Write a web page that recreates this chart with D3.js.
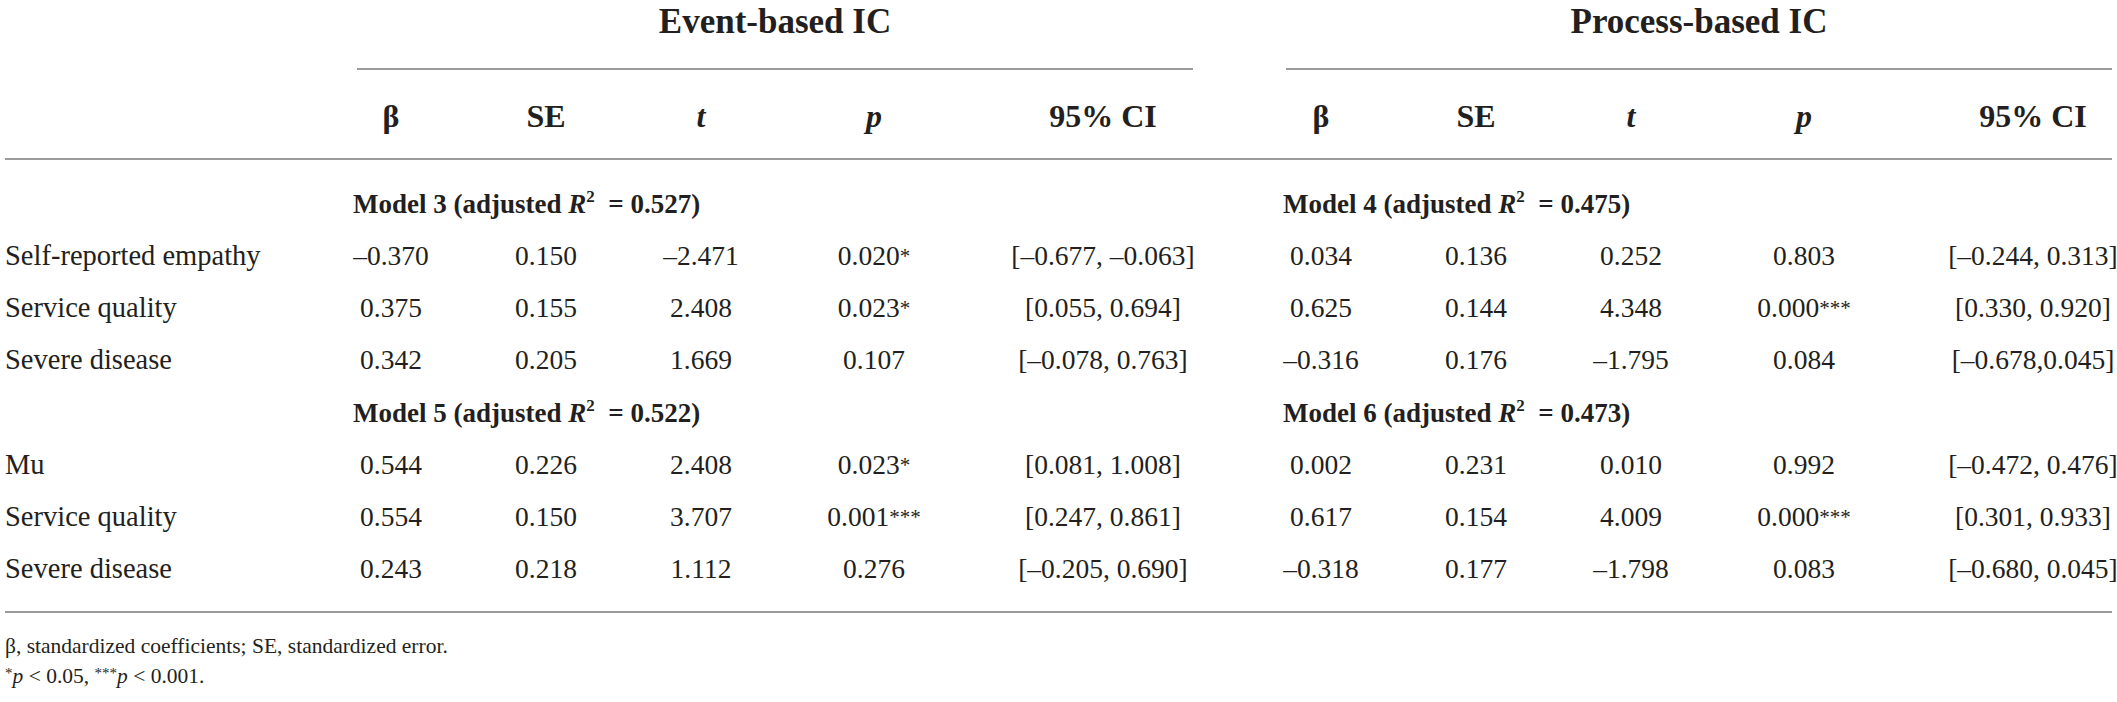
<!DOCTYPE html>
<html>
<head>
<meta charset="utf-8">
<script src="https://cdn.jsdelivr.net/npm/d3@7"></script>
<style>
  html, body { margin: 0; padding: 0; background: #ffffff; }
  svg { display: block; }
  text { font-family: "Liberation Serif", "Times New Roman", serif; fill: #231f20; }
</style>
</head>
<body>
<svg id="chart" width="2117" height="702"></svg>
<script>
// ---------- data ----------
const groups = ["Event-based IC", "Process-based IC"];
const columns = ["β", "SE", "t", "p", "95% CI"];
const italicColumns = ["t", "p"];
const rowLabels = ["Self-reported empathy", "Service quality", "Severe disease", "Mu", "Service quality", "Severe disease"];
const modelNames = [["Model 3", "Model 5"], ["Model 4", "Model 6"]];
const modelR2 = [["0.527", "0.522"], ["0.475", "0.473"]];

const eventBeta = ["–0.370", "0.375", "0.342", "0.544", "0.554", "0.243"];
const eventSE   = ["0.150", "0.155", "0.205", "0.226", "0.150", "0.218"];
const eventT    = ["–2.471", "2.408", "1.669", "2.408", "3.707", "1.112"];
const eventP    = ["0.020*", "0.023*", "0.107", "0.023*", "0.001***", "0.276"];
const eventCI   = ["[–0.677, –0.063]", "[0.055, 0.694]", "[–0.078, 0.763]", "[0.081, 1.008]", "[0.247, 0.861]", "[–0.205, 0.690]"];

const processBeta = ["0.034", "0.625", "–0.316", "0.002", "0.617", "–0.318"];
const processSE   = ["0.136", "0.144", "0.176", "0.231", "0.154", "0.177"];
const processT    = ["0.252", "4.348", "–1.795", "0.010", "4.009", "–1.798"];
const processP    = ["0.803", "0.000***", "0.084", "0.992", "0.000***", "0.083"];
const processCI   = ["[–0.244, 0.313]", "[0.330, 0.920]", "[–0.678,0.045]", "[–0.472, 0.476]", "[0.301, 0.933]", "[–0.680, 0.045]"];

const footnote1 = "β, standardized coefficients; SE, standardized error.";
const footnoteLevels = [["*", "0.05"], ["***", "0.001"]];

// ---------- layout ----------
const W = 2117, H = 702;
const svg = d3.select("#chart");
svg.append("rect").attr("width", W).attr("height", H).attr("fill", "#ffffff");

const groupData = [
  { name: groups[0], values: [eventBeta, eventSE, eventT, eventP, eventCI], models: modelNames[0], r2: modelR2[0] },
  { name: groups[1], values: [processBeta, processSE, processT, processP, processCI], models: modelNames[1], r2: modelR2[1] }
];

// column positions (layout)
const groupX = d3.scaleOrdinal().domain(groups).range([0, 930]);
const colX = d3.scaleOrdinal().domain(columns).range([391, 546, 701, 874, 1103]);
const groupSpan = d3.scaleOrdinal().domain(groups).range([[357, 1193], [1286, 2112]]);

// row positions
const rowKeys = ["m0", "r0", "r1", "r2", "m1", "r3", "r4", "r5"];
const rowY = d3.scalePoint().domain(rowKeys).range([213, 578]);
const dataRowKey = i => "r" + i;

const lineColor = "#9b9b9b";
const labelX = 5, tableRight = 2112;

// group headers + spanner lines
groupData.forEach(g => {
  const [x0, x1] = groupSpan(g.name);
  svg.append("text")
    .attr("x", (x0 + x1) / 2).attr("y", 33)
    .attr("text-anchor", "middle")
    .attr("font-weight", "bold").attr("font-size", 35)
    .text(g.name);
  svg.append("line")
    .attr("x1", x0).attr("x2", x1).attr("y1", 69).attr("y2", 69)
    .attr("stroke", lineColor).attr("stroke-width", 2);
});

// column headers
groupData.forEach(g => {
  columns.forEach(c => {
    svg.append("text")
      .attr("x", groupX(g.name) + colX(c)).attr("y", 127)
      .attr("text-anchor", "middle")
      .attr("font-weight", "bold").attr("font-size", 32)
      .attr("font-style", italicColumns.includes(c) ? "italic" : "normal")
      .text(c);
  });
});

// horizontal rules
[159, 612].forEach(y => {
  svg.append("line")
    .attr("x1", labelX).attr("x2", tableRight).attr("y1", y).attr("y2", y)
    .attr("stroke", lineColor).attr("stroke-width", 2);
});

// model labels
groupData.forEach(g => {
  g.models.forEach((m, k) => {
    const t = svg.append("text")
      .attr("x", groupX(g.name) + 353).attr("y", rowY("m" + k))
      .attr("font-weight", "bold").attr("font-size", 27);
    t.append("tspan").text(m + " (adjusted ");
    t.append("tspan").attr("font-style", "italic").text("R");
    t.append("tspan").attr("font-size", 17).attr("dy", -11).text("2");
    t.append("tspan").attr("dy", 11).text("\u00a0 = " + g.r2[k] + ")");
  });
});

// row labels
rowLabels.forEach((lab, i) => {
  svg.append("text")
    .attr("x", labelX).attr("y", rowY(dataRowKey(i)))
    .attr("font-size", 28.5)
    .text(lab);
});

// cell values
groupData.forEach(g => {
  columns.forEach((c, ci) => {
    g.values[ci].forEach((v, i) => {
      const m = v.match(/^([^*]*)(\**)$/);
      const t = svg.append("text")
        .attr("x", groupX(g.name) + colX(c)).attr("y", rowY(dataRowKey(i)))
        .attr("text-anchor", "middle")
        .attr("font-size", 27.5);
      t.append("tspan").text(m[1]);
      if (m[2]) {
        t.append("tspan").attr("font-size", 21).attr("dy", -2).text(m[2]);
      }
    });
  });
});

// footnotes
svg.append("text")
  .attr("x", labelX).attr("y", 653)
  .attr("font-size", 21.5)
  .text(footnote1);

const f2 = svg.append("text").attr("x", labelX).attr("y", 683).attr("font-size", 21.5);
footnoteLevels.forEach(([stars, lvl], k) => {
  f2.append("tspan").attr("font-size", 15).attr("dy", -5).text(stars);
  f2.append("tspan").attr("font-style", "italic").attr("dy", 5).text("p");
  f2.append("tspan").text(" < " + lvl + (k < footnoteLevels.length - 1 ? ", " : "."));
});
</script>
</body>
</html>
